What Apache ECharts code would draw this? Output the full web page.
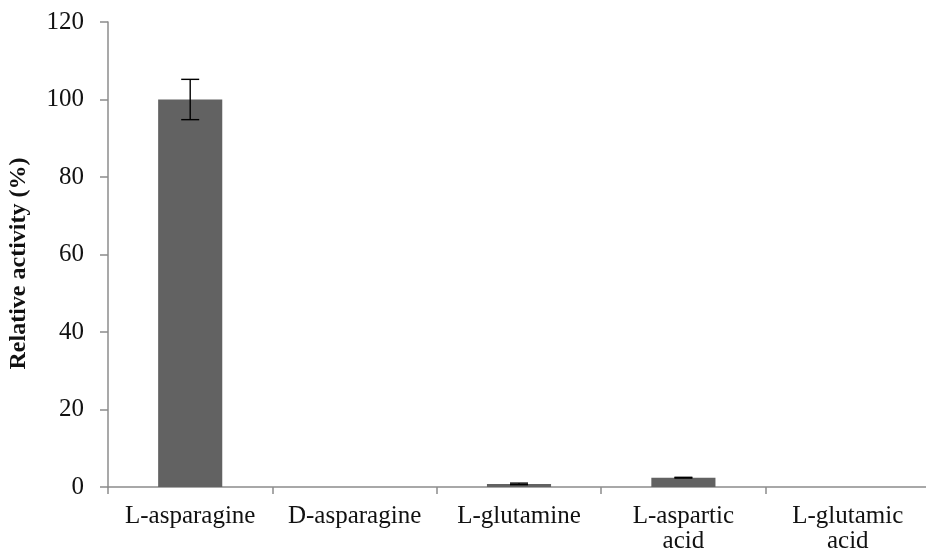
<!DOCTYPE html>
<html>
<head>
<meta charset="utf-8">
<script src="https://cdn.jsdelivr.net/npm/echarts@6/dist/echarts.min.js"></script>
<style>
  html, body { margin: 0; padding: 0; background: #fff; }
  #chart { width: 926px; height: 552px; }
</style>
</head>
<body>
<div id="chart"></div>
<script>
// Substrate specificity: relative activity of the enzyme on each amino acid
const categories = ['L-asparagine', 'D-asparagine', 'L-glutamine', 'L-aspartic\nacid', 'L-glutamic\nacid'];
const activity = [100, 0, 0.8, 2.4, 0];
const errors = [5.2, 0, 0.2, 0.1, 0];
const yTicks = { min: 0, max: 120, interval: 20 };

const axisGrey = '#8c8c8c';
const serif = '"Liberation Serif", "Times New Roman", serif';

const chart = echarts.init(document.getElementById('chart'));

// Error bars drawn from the value and its error through the axis scale;
// substrates with no measurable activity get none
const errorData = activity
  .map((v, i) => [i, v - errors[i], v + errors[i]])
  .filter((d, i) => errors[i] > 0);

chart.setOption({
  animation: false,
  backgroundColor: '#ffffff',
  grid: {
    left: 108, top: 22, width: 822, height: 465,
    containLabel: false, outerBoundsMode: 'none'
  },
  xAxis: {
    type: 'category',
    data: categories,
    axisLine: { lineStyle: { color: axisGrey, width: 1.5 } },
    axisTick: { show: true, length: 7, alignWithLabel: false, lineStyle: { color: axisGrey, width: 1.5 } },
    axisLabel: {
      color: '#111', fontFamily: serif, fontSize: 25, margin: 17, lineHeight: 25,
      interval: 0, align: 'center'
    },
    splitLine: { show: false }
  },
  yAxis: {
    type: 'value',
    min: yTicks.min, max: yTicks.max, interval: yTicks.interval,
    name: 'Relative activity (%)',
    nameLocation: 'middle',
    nameGap: 77,
    nameRotate: 90,
    nameTextStyle: {
      color: '#111', fontFamily: serif, fontSize: 24, fontWeight: 'bold',
      padding: [0, 18, 0, 0]
    },
    axisLine: { show: true, lineStyle: { color: axisGrey, width: 1.5 } },
    axisTick: { show: true, length: 8, lineStyle: { color: axisGrey, width: 1.5 } },
    axisLabel: { color: '#111', fontFamily: serif, fontSize: 25, margin: 24 },
    splitLine: { show: false }
  },
  series: [
    {
      type: 'bar',
      data: activity,
      barWidth: '39%',
      itemStyle: { color: '#626262' },
      z: 2
    },
    {
      type: 'custom',
      data: errorData,
      z: 3,
      renderItem: function (params, api) {
        const x = api.value(0);
        const lo = api.coord([x, api.value(1)]);
        const hi = api.coord([x, api.value(2)]);
        const cap = 9;
        const style = { stroke: '#000', lineWidth: 1.4 };
        return {
          type: 'group',
          children: [
            { type: 'line', shape: { x1: hi[0], y1: hi[1], x2: lo[0], y2: lo[1] }, style: style },
            { type: 'line', shape: { x1: hi[0] - cap, y1: hi[1], x2: hi[0] + cap, y2: hi[1] }, style: style },
            { type: 'line', shape: { x1: lo[0] - cap, y1: lo[1], x2: lo[0] + cap, y2: lo[1] }, style: style }
          ]
        };
      }
    }
  ]
});
</script>
</body>
</html>
